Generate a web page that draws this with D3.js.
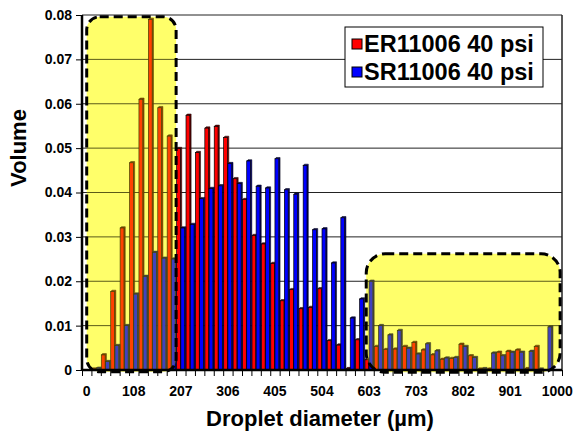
<!DOCTYPE html>
<html>
<head>
<meta charset="utf-8">
<script src="https://cdn.jsdelivr.net/npm/d3@7"></script>
<style>
  body { margin: 0; background: #fff; }
  text { font-family: "Liberation Sans", Arial, sans-serif; font-weight: bold; }
</style>
</head>
<body>
<script>
  var width = 573;
  var height = 432;
  var margin = {top: 15, right: 11, bottom: 62, left: 82};

  // one bin per category, labels shown every 5th bin
  var tickIndex = [0, 5, 10, 15, 20, 25, 30, 35, 40, 45, 50];
  var tickLabels = ["0", "108", "207", "306", "405", "504", "603", "703", "802", "901", "1000"];

  var seriesNames = ["ER11006 40 psi", "SR11006 40 psi"];
  var seriesColors = ["#ff0000", "#0000ff"];
  var seriesDark = ["#7a0000", "#00007a"];

  var erValues = [0, 0.0002, 0.0034, 0.0177, 0.0320, 0.0467, 0.0610, 0.0790, 0.0591, 0.0527,
    0.0499, 0.0574, 0.0490, 0.0545, 0.0549, 0.0524, 0.0431, 0.0384, 0.0303, 0.0284,
    0.0240, 0.0156, 0.0181, 0.0138, 0.0141, 0.0183, 0.0066, 0.0056, 0.0003, 0.0068,
    0.0023, 0.0053, 0.0046, 0.0047, 0.0053, 0.0062, 0.0045, 0.0034, 0.0024, 0.0026,
    0.0058, 0.0032, 0.0002, 0.0002, 0.0040, 0.0042, 0.0045, 0.0003, 0.0053, 0, 0];

  var srValues = [0, 0.0004, 0.0019, 0.0055, 0.0100, 0.0171, 0.0211, 0.0265, 0.0252, 0.0250,
    0.0320, 0.0328, 0.0386, 0.0409, 0.0415, 0.0465, 0.0420, 0.0471, 0.0414, 0.0410,
    0.0476, 0.0406, 0.0396, 0.0461, 0.0316, 0.0318, 0.0241, 0.0343, 0.0117, 0.0160,
    0.0200, 0.0100, 0.0079, 0.0089, 0.0049, 0.0036, 0.0059, 0.0043, 0.0027, 0.0028,
    0.0053, 0.0028, 0.0003, 0.0038, 0.0032, 0.0040, 0.0040, 0.0042, 0.0002, 0.0097, 0];

  var yTicks = [0, 0.01, 0.02, 0.03, 0.04, 0.05, 0.06, 0.07, 0.08];

  // highlighted regions, in category units and volume units
  var highlights = [
    {x0: 0.5, x1: 10, top: 0.0796, bottom: -0.0004, r: 13},
    {x0: 30.2, x1: 50.8, top: 0.0262, bottom: -0.0005, r: 19}
  ];

  var n = erValues.length;
  var w = width - margin.left - margin.right;
  var h = height - margin.top - margin.bottom;

  var svg = d3.select("body")
    .append("svg")
    .attr("width", width)
    .attr("height", height);

  var g = svg.append("g")
    .attr("transform", "translate(" + margin.left + "," + margin.top + ")");

  var x0 = d3.scaleBand()
    .domain(d3.range(n))
    .range([0, w])
    .paddingInner(0.1)
    .paddingOuter(0.05);

  var x1 = d3.scaleBand()
    .domain([0, 1])
    .range([0, x0.bandwidth()]);

  // category boundaries
  var xl = d3.scaleLinear().domain([0, n]).range([0, w]);

  var y = d3.scaleLinear()
    .domain([0, 0.08])
    .range([h, 0]);

  function boxAttrs(sel) {
    sel.attr("x", function(d) { return xl(d.x0); })
      .attr("y", function(d) { return y(d.top); })
      .attr("width", function(d) { return xl(d.x1) - xl(d.x0); })
      .attr("height", function(d) { return y(d.bottom) - y(d.top); })
      .attr("rx", function(d) { return d.r; });
  }

  // pale yellow behind the highlighted bars
  g.append("g")
    .selectAll("rect")
    .data(highlights)
    .enter()
    .append("rect")
    .call(boxAttrs)
    .style("fill", "#ffff90");

  // gridlines
  g.append("g")
    .selectAll("line")
    .data(yTicks.slice(1))
    .enter()
    .append("line")
    .attr("x1", 0)
    .attr("x2", w)
    .attr("y1", function(d) { return y(d); })
    .attr("y2", function(d) { return y(d); })
    .style("stroke", "#222")
    .style("stroke-width", 1);

  g.append("line")
    .attr("x1", w).attr("x2", w)
    .attr("y1", 0).attr("y2", h)
    .style("stroke", "#222")
    .style("stroke-width", 1.5);

  // bars with a little 3d depth
  var depth = 1.3;
  var bw = x1.bandwidth() - 0.4;
  var series = [erValues, srValues];

  series.forEach(function(vals, s) {
    var bars = g.append("g").selectAll("g")
      .data(vals.map(function(v, i) { return {i: i, v: v}; }).filter(function(d) { return d.v > 0; }))
      .enter()
      .append("g");

    bars.append("polygon")
      .attr("points", function(d) {
        var bx = x0(d.i) + x1(s);
        var by = y(d.v);
        return [[bx, by], [bx + depth, by - depth], [bx + bw + depth, by - depth],
          [bx + bw + depth, h - depth], [bx + bw, h], [bx + bw, by]].join(" ");
      })
      .style("fill", seriesDark[s])
      .style("stroke", "#000")
      .style("stroke-width", 0.5);

    bars.append("rect")
      .attr("x", function(d) { return x0(d.i) + x1(s); })
      .attr("y", function(d) { return y(d.v); })
      .attr("width", bw)
      .attr("height", function(d) { return h - y(d.v); })
      .style("fill", seriesColors[s])
      .style("stroke", "#000")
      .style("stroke-width", 0.7);
  });

  // yellow tint over the highlighted bars
  g.append("g")
    .selectAll("rect")
    .data(highlights)
    .enter()
    .append("rect")
    .call(boxAttrs)
    .style("fill", "#ffff00")
    .style("fill-opacity", 0.26);

  // y axis
  var yAxis = d3.axisLeft(y)
    .tickValues(yTicks)
    .tickSize(6)
    .tickPadding(4)
    .tickFormat(function(d) { return d === 0 ? "0" : d3.format(".2f")(d); });

  var ya = g.append("g").call(yAxis);
  ya.select(".domain").style("stroke-width", 2.5).attr("d", "M0," + h + "V0");
  ya.selectAll("text").style("font-size", "14px").style("fill", "#000");

  // x axis: tick marks on bin edges, labels under every 5th bin
  var xTickAxis = d3.axisBottom(xl)
    .tickValues(d3.range(n + 1))
    .tickSize(6)
    .tickFormat("");

  var xa = g.append("g")
    .attr("transform", "translate(0," + h + ")")
    .call(xTickAxis);
  xa.select(".domain").style("stroke-width", 2.5).attr("d", "M0,0H" + w);

  g.append("g")
    .selectAll("text")
    .data(tickIndex)
    .enter()
    .append("text")
    .attr("x", function(d) { return x0(d) + x0.bandwidth() / 2; })
    .attr("y", h + 26)
    .attr("text-anchor", "middle")
    .style("font-size", "14px")
    .text(function(d, i) { return tickLabels[i]; });

  // dashed outlines of the highlights
  g.append("g")
    .selectAll("rect")
    .data(highlights)
    .enter()
    .append("rect")
    .call(boxAttrs)
    .style("fill", "none")
    .style("stroke", "#000")
    .style("stroke-width", 3)
    .style("stroke-dasharray", "9,5");

  // axis titles
  svg.append("text")
    .attr("x", margin.left + w / 2 - 2)
    .attr("y", 426)
    .attr("text-anchor", "middle")
    .style("font-size", "22px")
    .text("Droplet diameter (\u00b5m)");

  svg.append("text")
    .attr("transform", "translate(26," + 148 + ") rotate(-90)")
    .attr("text-anchor", "middle")
    .style("font-size", "22px")
    .text("Volume");

  // legend
  var legend = svg.append("g")
    .attr("transform", "translate(345,27)");

  legend.append("rect")
    .attr("width", 198)
    .attr("height", 60)
    .style("fill", "#fff")
    .style("stroke", "#000")
    .style("stroke-width", 1);

  var item = legend.selectAll(".item")
    .data(seriesNames)
    .enter()
    .append("g")
    .attr("class", "item")
    .attr("transform", function(d, i) { return "translate(0," + (i * 28) + ")"; });

  item.append("rect")
    .attr("x", 7)
    .attr("y", 12)
    .attr("width", 10)
    .attr("height", 10)
    .style("fill", function(d, i) { return seriesColors[i]; })
    .style("stroke", "#000")
    .style("stroke-width", 1);

  item.append("text")
    .attr("x", 19)
    .attr("y", 24.5)
    .style("font-size", "23.5px")
    .text(function(d) { return d; });
</script>
</body>
</html>
